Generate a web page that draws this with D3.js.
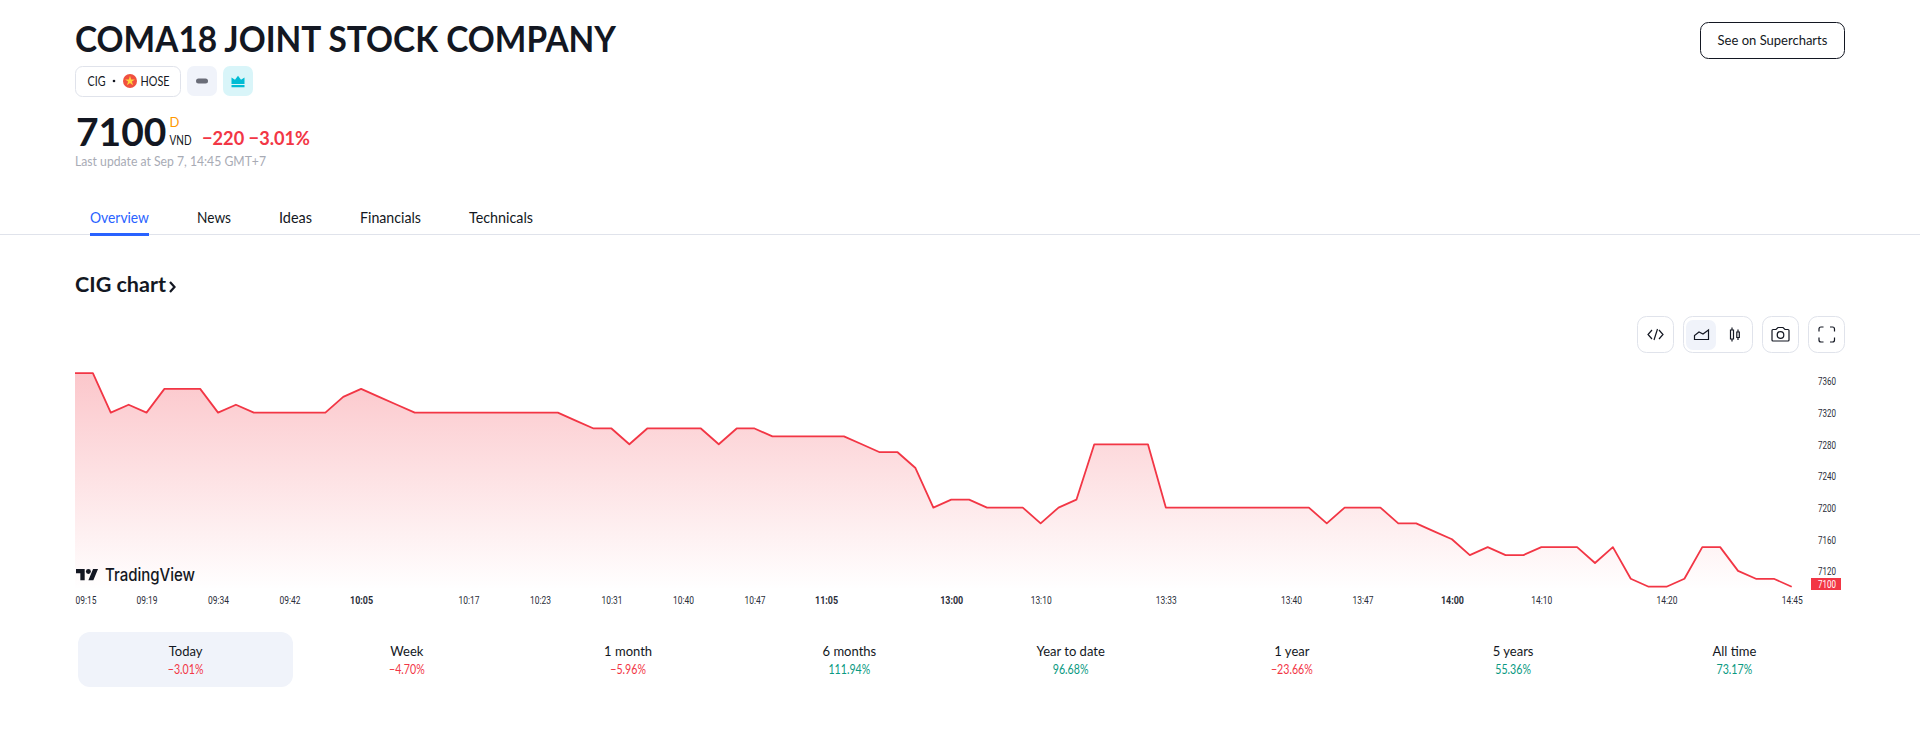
<!DOCTYPE html>
<html>
<head>
<meta charset="utf-8">
<script src="https://cdn.jsdelivr.net/npm/d3@7"></script>
<style>
  html, body { margin: 0; padding: 0; background: #fff; overflow: hidden; }
  text { font-family: "Lato", "DejaVu Sans", sans-serif; fill: #131722; }
  .axis path, .axis line { display: none; }
  .axis text { font-family: "Roboto", sans-serif; font-size: 10.5px; fill: #2a2e39; }
</style>
</head>
<body>
<svg id="page"></svg>
<script>
const width = 1920;
const height = 750;

// prices, one per session bar
const prices = [
  7370, 7370, 7320, 7330, 7320, 7350, 7350, 7350, 7320, 7330,
  7320, 7320, 7320, 7320, 7320, 7340, 7350, 7340, 7330, 7320,
  7320, 7320, 7320, 7320, 7320, 7320, 7320, 7320, 7310, 7300,
  7300, 7280, 7300, 7300, 7300, 7300, 7280, 7300, 7300, 7290,
  7290, 7290, 7290, 7290, 7280, 7270, 7270, 7250, 7200, 7210,
  7210, 7200, 7200, 7200, 7180, 7200, 7210, 7280, 7280, 7280,
  7280, 7200, 7200, 7200, 7200, 7200, 7200, 7200, 7200, 7200,
  7180, 7200, 7200, 7200, 7180, 7180, 7170, 7160, 7140, 7150,
  7140, 7140, 7150, 7150, 7150, 7130, 7150, 7110, 7100, 7100,
  7110, 7150, 7150, 7120, 7110, 7110, 7100
];
const lastPrice = 7100;

const priceTicks = [7120, 7160, 7200, 7240, 7280, 7320, 7360];
const timeTickBars = [0, 4, 8, 12, 16, 22, 26, 30, 34, 38, 42, 49, 54, 61, 68, 72, 77, 82, 89, 96];
const timeTickLabels = ["09:15", "09:19", "09:34", "09:42", "10:05", "10:17", "10:23", "10:31", "10:40", "10:47",
  "11:05", "13:00", "13:10", "13:33", "13:40", "13:47", "14:00", "14:10", "14:20", "14:45"];
const boldTimes = ["10:05", "11:05", "13:00", "14:00"];

const tabs = ["Overview", "News", "Ideas", "Financials", "Technicals"];

const periods = ["Today", "Week", "1 month", "6 months", "Year to date", "1 year", "5 years", "All time"];
const periodChanges = [-3.01, -4.70, -5.96, 111.94, 96.68, -23.66, 55.36, 73.17];

const red = "#f23645";
const green = "#089981";
const ink = "#131722";
const border = "#e0e3eb";
const soft = "#f0f3fa";

const svg = d3.select("#page").attr("width", width).attr("height", height);

const defs = svg.append("defs");
const grad = defs.append("linearGradient").attr("id", "areaFill")
  .attr("x1", 0).attr("x2", 0).attr("y1", 0).attr("y2", 1);
grad.append("stop").attr("offset", "0%").attr("stop-color", red).attr("stop-opacity", 0.28);
grad.append("stop").attr("offset", "100%").attr("stop-color", red).attr("stop-opacity", 0);

function fit(sel, len) {
  return sel.attr("textLength", len).attr("lengthAdjust", "spacingAndGlyphs");
}

function label(x, y, str, size, opts = {}) {
  const t = svg.append("text")
    .attr("x", x).attr("y", y)
    .attr("font-size", size)
    .attr("font-weight", opts.weight || 400)
    .attr("text-anchor", opts.anchor || "start")
    .style("fill", opts.fill || ink)
    .text(str);
  if (opts.len) fit(t, opts.len);
  if (opts.squeeze) fit(t, t.node().getComputedTextLength() * opts.squeeze);
  return t;
}

function box(x, y, w, h, r, fill, stroke) {
  return svg.append("rect")
    .attr("x", x).attr("y", y).attr("width", w).attr("height", h).attr("rx", r)
    .attr("fill", fill || "#fff").attr("stroke", stroke || "none");
}

// header
label(75, 52, "COMA18 JOINT STOCK COMPANY", 36, { weight: 700, len: 541 });
box(1700.5, 22.5, 144, 36, 8, "#fff", ink);
label(1772.5, 44.5, "See on Supercharts", 13, { anchor: "middle" });

box(75.5, 66.5, 105, 30, 7, "#fff", border);
label(87.5, 86, "CIG", 13, { len: 18 });
svg.append("circle").attr("cx", 114).attr("cy", 81).attr("r", 1.3).attr("fill", ink);
svg.append("circle").attr("cx", 130).attr("cy", 81).attr("r", 7).attr("fill", "#f0503f");
svg.append("path").attr("d", d3.symbol(d3.symbolStar, 30)()).attr("transform", "translate(130,81)").attr("fill", "#ffd23c");
label(140.5, 86, "HOSE", 13, { len: 29 });
box(187, 66, 30, 30, 7, soft);
box(196, 78.5, 12, 5, 2.5, "#6a6d78");
box(223, 66, 30, 30, 7, "#d9f5f9");
svg.append("path").attr("d", "M231.5 77.5l3.5 2.2 3-4 3 4 3.5-2.2v6.5h-13zM231.5 85h13v2.2h-13z").attr("fill", "#00bcd4");

label(76, 146, "7100", 39, { weight: 700 });
label(169.5, 127, "D", 13, { fill: "#ff9800" });
label(169.5, 145, "VND", 12.5, { len: 22 });
label(202, 145, "−220 −3.01%", 19, { weight: 700, fill: red, len: 108 });
label(75, 166, "Last update at Sep 7, 14:45 GMT+7", 13, { fill: "#a8abb5", len: 191 });

// tabs
svg.append("line").attr("x1", 0).attr("x2", width).attr("y1", 234.5).attr("y2", 234.5).attr("stroke", border);
const tabStarts = [90, 197, 279, 360, 469];
const tabWidths = [59, 34, 33, 61, 64];
tabs.forEach((t, i) => label(tabStarts[i], 223, t, 15, { fill: i === 0 ? "#2962ff" : ink, len: tabWidths[i] }));
box(90, 233, 59, 3, 0, "#2962ff");

label(75, 292, "CIG chart", 21, { weight: 700, len: 91 });
svg.append("path").attr("d", "M170 282l4.5 5-4.5 5").attr("fill", "none").attr("stroke", ink).attr("stroke-width", 2.2);

// toolbar
function icon(d) {
  return svg.append("path").attr("d", d).attr("fill", "none").attr("stroke", ink).attr("stroke-width", 1.2);
}
box(1637.5, 316.5, 36, 36, 9, "#fff", border);
icon("M1652 330l-4 4.5 4 4.5M1659 330l4 4.5-4 4.5M1657.5 329l-3.5 11");
box(1683.5, 316.5, 69, 36, 9, "#fff", border);
box(1686, 320, 30, 30, 7, soft);
icon("M1694.5 339.5v-4l4.5-3.5 4 2 5.5-4v9.5z");
icon("M1730.5 330v9h3v-9zM1732 327.5v2.5M1732 339v2.5M1736.8 332v5.5h2.5V332zM1738 329.5V332M1738 337.5v2.5");
box(1762.5, 316.5, 36, 36, 9, "#fff", border);
icon("M1773 329.5h3l2-2h5l2 2h3a1 1 0 0 1 1 1v9.5a1 1 0 0 1-1 1h-15a1 1 0 0 1-1-1v-9.5a1 1 0 0 1 1-1z");
svg.append("circle").attr("cx", 1780.5).attr("cy", 335).attr("r", 3.3).attr("fill", "none").attr("stroke", ink).attr("stroke-width", 1.2);
box(1808.5, 316.5, 36, 36, 9, "#fff", border);
icon("M1819 331.5v-2.5a2 2 0 0 1 2-2h2.5M1830 327h2.5a2 2 0 0 1 2 2v2.5M1834.5 337.5v2.5a2 2 0 0 1-2 2H1830M1823.5 342H1821a2 2 0 0 1-2-2v-2.5");

// chart
const x = d3.scaleLinear().domain([0, prices.length - 1]).range([75, 1791.7]);
const y = d3.scaleLinear().domain([7100, 7360]).range([586.7, 381]);

const area = d3.area().x((d, i) => x(i)).y0(590).y1(d => y(d));
const line = d3.line().x((d, i) => x(i)).y(d => y(d));

svg.append("path").datum(prices).attr("d", area).attr("fill", "url(#areaFill)");
svg.append("path").datum(prices).attr("d", line)
  .attr("fill", "none").attr("stroke", red).attr("stroke-width", 1.8).attr("stroke-linejoin", "round");

// logo
const logo = svg.append("g").attr("transform", "translate(76,566.5) scale(0.62)");
logo.append("path").attr("d", "M14 22H7V11H0V4h14v18zM28 22h-8l7.5-18h8L28 22z").attr("fill", ink);
logo.append("circle").attr("cx", 20).attr("cy", 8).attr("r", 4).attr("fill", ink);
fit(svg.append("text").attr("x", 105).attr("y", 580.5).attr("font-size", 17).attr("font-weight", 500)
  .style("font-family", "Inter, sans-serif").style("fill", ink).text("TradingView"), 90);

// axes
const yAxis = svg.append("g").attr("class", "axis")
  .attr("transform", "translate(1818,0.5)")
  .call(d3.axisRight(y).tickValues(priceTicks).tickSize(0).tickPadding(0).tickFormat(d3.format("d")));
fit(yAxis.selectAll("text"), 18);

const xAxis = svg.append("g").attr("class", "axis")
  .attr("transform", "translate(0,593)")
  .call(d3.axisBottom(x).tickValues(timeTickBars).tickSize(0).tickPadding(4)
    .tickFormat((d, i) => timeTickLabels[i]));
xAxis.selectAll("text")
  .attr("font-weight", (d, i) => boldTimes.includes(timeTickLabels[i]) ? 700 : 400)
  .attr("text-anchor", (d, i) => i === 0 ? "start" : "middle")
  .attr("textLength", (d, i) => boldTimes.includes(timeTickLabels[i]) ? 23 : 21)
  .attr("lengthAdjust", "spacingAndGlyphs");

box(1811, 578, 30, 12, 0, red);
fit(svg.append("text").attr("x", 1818).attr("y", 588).attr("font-size", 10.5)
  .style("font-family", "Roboto, sans-serif").style("fill", "#fff").text(lastPrice), 18);

// period strip
const cell = d3.scaleBand().domain(periods).range([75, 1845]);
box(78, 632, 215, 55, 12, soft);
const fmtChange = v => (v < 0 ? "−" : "") + Math.abs(v).toFixed(2) + "%";
periods.forEach((p, i) => {
  const cx = cell(p) + cell.bandwidth() / 2;
  label(cx, 656, p, 13, { anchor: "middle" });
  label(cx, 673.5, fmtChange(periodChanges[i]), 12.5, { anchor: "middle", fill: periodChanges[i] < 0 ? red : green, squeeze: 0.85 });
});
</script>
</body>
</html>
